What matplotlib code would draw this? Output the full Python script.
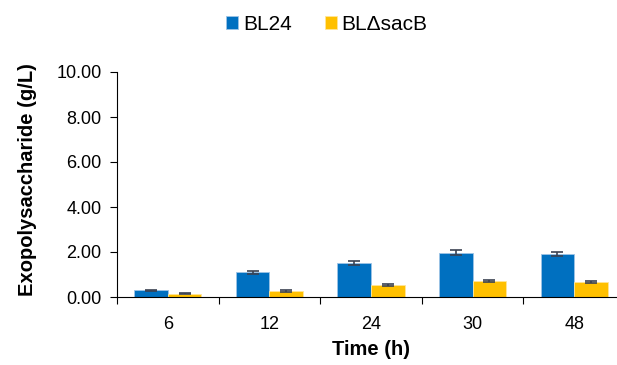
import matplotlib
matplotlib.use("Agg")
import matplotlib.pyplot as plt
import numpy as np

plt.rcParams["font.family"] = ["Liberation Sans", "DejaVu Sans"]

# ---------------------------------------------------------------------------
# Data
# ---------------------------------------------------------------------------
times = ["6", "12", "24", "30", "48"]
bl24 = [0.29, 1.09, 1.51, 1.96, 1.91]
bl24_err = [0.02, 0.07, 0.09, 0.11, 0.10]
sacb = [0.15, 0.28, 0.55, 0.71, 0.68]
sacb_err = [0.03, 0.04, 0.05, 0.05, 0.05]

BLUE = "#0070C0"
YELLOW = "#FFC000"
ERR = "#3B4252"

fig = plt.figure(figsize=(6.17, 3.65), dpi=100)
ax = fig.add_axes([117 / 617, 1 - 297 / 365, 508 / 617, 225 / 365])

x = np.arange(len(times))
w = 0.33
ax.bar(x - w / 2, bl24, w, color=BLUE, edgecolor="#9DC3E6", linewidth=0.6,
       yerr=bl24_err, error_kw=dict(ecolor=ERR, capsize=4, elinewidth=1.2,
                                     capthick=1.2), label="BL24")
ax.bar(x + w / 2, sacb, w, color=YELLOW, edgecolor="#FFE699", linewidth=0.6,
       yerr=sacb_err, error_kw=dict(ecolor=ERR, capsize=4, elinewidth=1.2,
                                     capthick=1.2), label="BLΔsacB")

ax.set_xlim(-0.5, len(times) - 0.5)
ax.set_ylim(0, 10)
ax.set_yticks(np.arange(0, 10.1, 2))
ax.set_yticklabels([f"{v:.2f}" for v in np.arange(0, 10.1, 2)])
ax.set_xticks(x)
ax.set_xticklabels(times)
ax.set_xticks(np.arange(-0.5, len(times), 1), minor=True)
ax.tick_params(axis="x", which="major", length=0, pad=14, labelsize=13)
ax.tick_params(axis="x", which="minor", length=5, width=0.8)
ax.tick_params(axis="y", length=5, width=0.8, labelsize=13, pad=6)

for sp in ("top", "right"):
    ax.spines[sp].set_visible(False)
for sp in ("left", "bottom"):
    ax.spines[sp].set_linewidth(0.8)

ax.set_xlabel("Time (h)", fontsize=14.5, fontweight="bold", labelpad=5)
ax.set_ylabel("Exopolysaccharide (g/L)", fontsize=14.5, fontweight="bold")
ax.yaxis.set_label_coords(-0.158, 0.52)

fig.legend(loc="upper center", bbox_to_anchor=(0.53, 1.01), ncol=2,
           frameon=False, fontsize=15, handlelength=0.55, handleheight=0.55,
           handletextpad=0.25, columnspacing=1.6)

fig.savefig("out.png", dpi=100)
